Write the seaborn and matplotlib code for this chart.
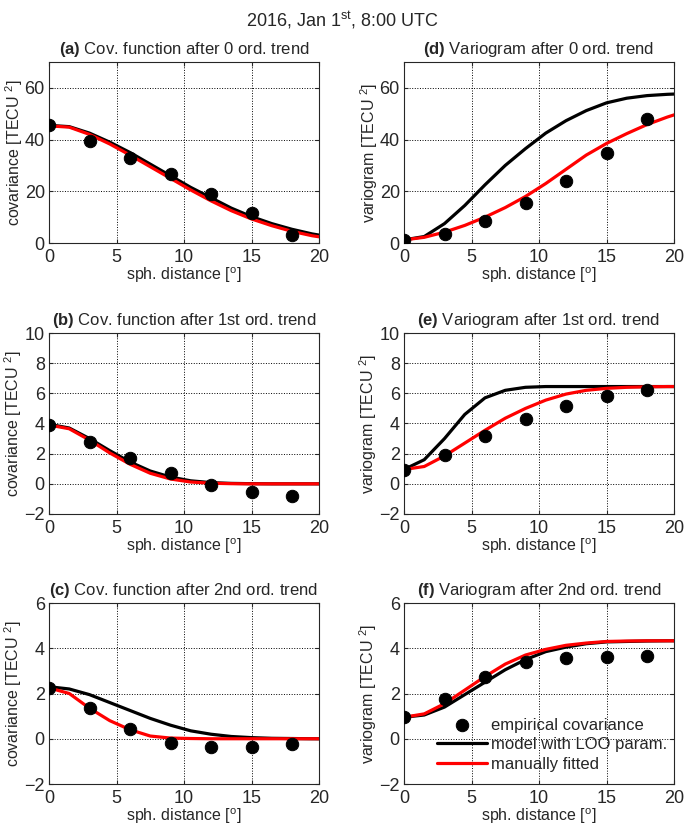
import numpy as np
import pandas as pd
import seaborn as sns
import matplotlib.pyplot as plt

# --- data ---
x_emp = [0, 3, 6, 9, 12, 15, 18]
x_mod = [0, 1.5, 3, 4.5, 6, 7.5, 9, 10.5, 12, 13.5, 15, 16.5, 18, 19.5, 21]

# (a) covariance, 0 ord. trend
cov0_emp = [45.5, 39.5, 33.0, 26.5, 18.8, 11.5, 3.0]
cov0_loo = [45.5, 45.0, 42.5, 39.0, 35.0, 30.5, 26.0, 21.5, 17.5, 13.5, 10.2, 7.5, 5.3, 3.5, 2.2]
cov0_man = [45.3, 44.8, 42.0, 38.3, 34.0, 29.5, 25.0, 20.5, 16.3, 12.5, 9.3, 6.7, 4.5, 2.8, 1.6]
# (b) covariance, 1st ord. trend
cov1_emp = [3.9, 2.8, 1.7, 0.7, -0.05, -0.55, -0.8]
cov1_loo = [3.95, 3.7, 3.0, 2.2, 1.45, 0.85, 0.45, 0.2, 0.08, 0.03, 0.01, 0.0, 0.0, 0.0, 0.0]
cov1_man = [3.9, 3.65, 2.9, 2.05, 1.3, 0.7, 0.32, 0.12, 0.04, 0.01, 0.0, 0.0, 0.0, 0.0, 0.0]
# (c) covariance, 2nd ord. trend
cov2_emp = [2.25, 1.35, 0.45, -0.2, -0.35, -0.35, -0.25]
cov2_loo = [2.3, 2.2, 1.95, 1.6, 1.25, 0.9, 0.6, 0.35, 0.2, 0.1, 0.05, 0.02, 0.01, 0.0, 0.0]
cov2_man = [2.25, 2.0, 1.35, 0.8, 0.4, 0.12, 0.03, 0.01, 0.0, 0.0, 0.0, 0.0, 0.0, 0.0, 0.0]
# (d) variogram, 0 ord. trend
var0_emp = [1.0, 3.5, 8.5, 15.5, 23.8, 34.8, 48.0]
var0_loo = [1.2, 2.5, 7.5, 14.5, 22.5, 30.0, 36.5, 42.5, 47.3, 51.2, 54.2, 56.0, 57.0, 57.5, 57.8]
var0_man = [1.2, 2.2, 4.2, 6.8, 10.0, 13.7, 18.0, 23.0, 28.5, 34.0, 38.5, 42.3, 45.8, 48.7, 51.2]
# (e) variogram, 1st ord. trend
var1_emp = [0.95, 1.9, 3.15, 4.3, 5.15, 5.85, 6.25]
var1_loo = [0.95, 1.6, 3.0, 4.6, 5.7, 6.2, 6.4, 6.45, 6.45, 6.45, 6.45, 6.45, 6.45, 6.45, 6.45]
var1_man = [0.95, 1.15, 1.85, 2.7, 3.55, 4.35, 5.0, 5.55, 5.95, 6.2, 6.33, 6.4, 6.43, 6.45, 6.45]
# (f) variogram, 2nd ord. trend
var2_emp = [0.95, 1.75, 2.75, 3.4, 3.57, 3.62, 3.65]
var2_loo = [0.95, 1.05, 1.4, 1.95, 2.5, 3.05, 3.5, 3.85, 4.05, 4.2, 4.28, 4.3, 4.32, 4.33, 4.33]
var2_man = [0.95, 1.1, 1.55, 2.15, 2.75, 3.3, 3.7, 3.95, 4.13, 4.23, 4.3, 4.32, 4.33, 4.33, 4.33]

panels = [
    ("(a)", "Cov. function after 0 ord. trend", "covariance", cov0_emp, cov0_loo, cov0_man, (0, 70), [0, 20, 40, 60]),
    ("(d)", "Variogram after 0 ord. trend", "variogram", var0_emp, var0_loo, var0_man, (0, 70), [0, 20, 40, 60]),
    ("(b)", "Cov. function after 1st ord. trend", "covariance", cov1_emp, cov1_loo, cov1_man, (-2, 10), [-2, 0, 2, 4, 6, 8, 10]),
    ("(e)", "Variogram after 1st ord. trend", "variogram", var1_emp, var1_loo, var1_man, (-2, 10), [-2, 0, 2, 4, 6, 8, 10]),
    ("(c)", "Cov. function after 2nd ord. trend", "covariance", cov2_emp, cov2_loo, cov2_man, (-2, 6), [-2, 0, 2, 4, 6]),
    ("(f)", "Variogram after 2nd ord. trend", "variogram", var2_emp, var2_loo, var2_man, (-2, 6), [-2, 0, 2, 4, 6]),
]

sns.set_style("ticks")
plt.rcParams['font.family'] = ['Liberation Sans', 'DejaVu Sans']
plt.rcParams['mathtext.fontset'] = 'custom'
plt.rcParams['mathtext.rm'] = 'Liberation Sans'
plt.rcParams['mathtext.it'] = 'Liberation Sans'
plt.rcParams['mathtext.bf'] = 'Liberation Sans:bold'
plt.rcParams['xtick.direction'] = 'in'
plt.rcParams['ytick.direction'] = 'in'

fig = plt.figure(figsize=(6.85, 8.3), dpi=100)
W, H = 685, 830
lefts = [49, 404]
tops = [62, 333, 603]
aw, ah = 270, 181

for i, (tag, title, ylab, emp, loo, man, ylim, yt) in enumerate(panels):
    r, c = i // 2, i % 2
    ax = fig.add_axes([lefts[c] / W, 1 - (tops[r] + ah) / H, aw / W, ah / H])
    sns.scatterplot(x=x_emp, y=emp, ax=ax, color='black', s=80, edgecolor='black',
                    zorder=3, label='empirical covariance')
    sns.lineplot(x=x_mod, y=loo, ax=ax, color='black', lw=2.3, zorder=2,
                 label='model with LOO param.')
    sns.lineplot(x=x_mod, y=man, ax=ax, color='#ff0000', lw=2.3, zorder=2,
                 label='manually fitted')
    ax.set_xlim(0, 20)
    ax.set_ylim(*ylim)
    ax.set_xticks([0, 5, 10, 15, 20])
    ax.set_yticks(yt)
    ax.grid(True, color='black', linestyle=':', linewidth=0.7)
    ax.tick_params(labelsize=13, top=True, right=True, length=3)
    ax.tick_params(axis='x', pad=4)
    ax.tick_params(axis='y', pad=3)
    for s in ax.spines.values():
        s.set_linewidth(0.8)
    ax.set_xlabel(r"sph. distance [$^{o}$]", fontsize=11.5, labelpad=0)
    ax.set_ylabel(ylab + r" [TECU $^{2}$]", fontsize=11.5, labelpad=0)
    ax.set_title(r"$\bf{" + tag + "}$ " + title, fontsize=12, pad=6)
    if i == 5:
        ax.legend(loc='lower right', frameon=False, fontsize=12, handlelength=3.0,
                  handletextpad=0.25, borderaxespad=0.0, labelspacing=0.28,
                  bbox_to_anchor=(1.0, 0.03))
    else:
        ax.get_legend().remove()

fig.text(0.5, 1 - 20 / H, r"2016, Jan 1$^{st}$, 8:00 UTC", ha='center', va='center', fontsize=13)

plt.savefig("out.png", dpi=100)
